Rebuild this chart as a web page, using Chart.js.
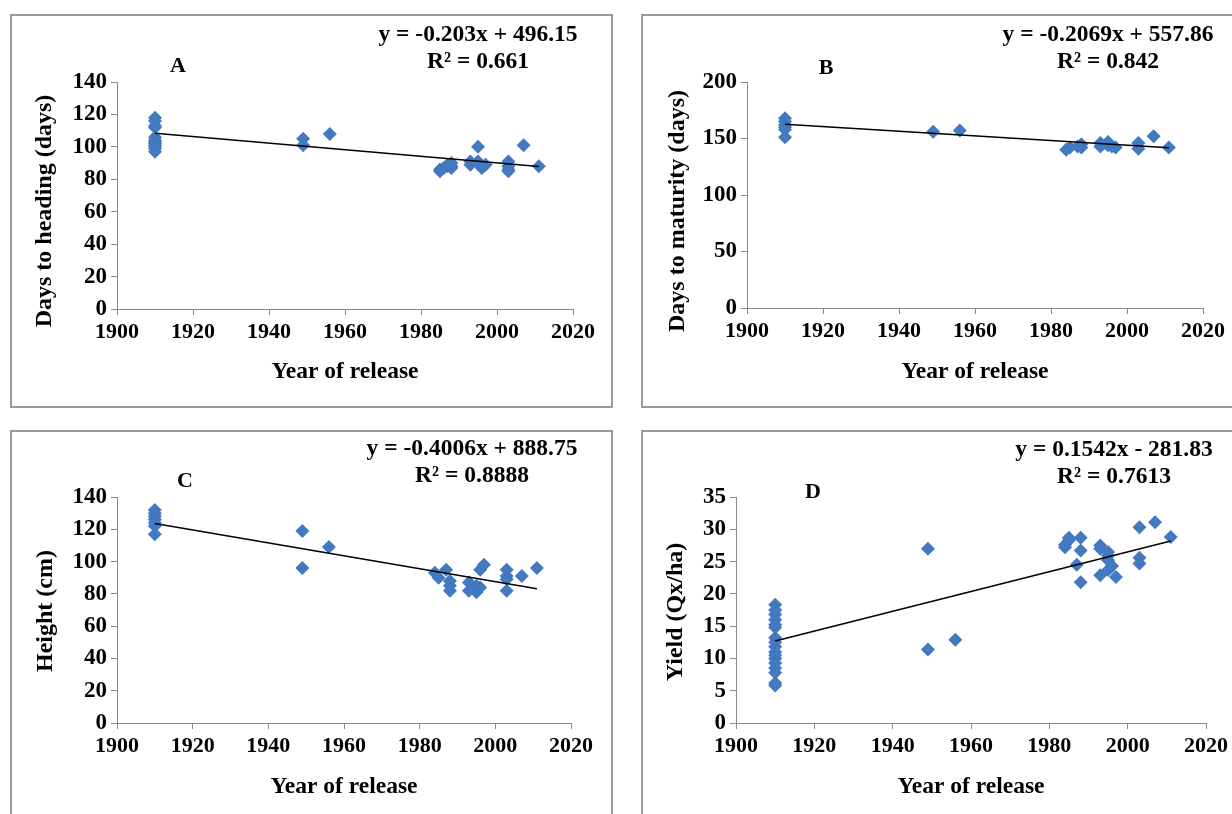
<!DOCTYPE html>
<html>
<head>
<meta charset="utf-8">
<script src="https://cdn.jsdelivr.net/npm/chart.js@4"></script>
<style>
  html, body { margin: 0; padding: 0; background: #fff; overflow: hidden; }
  body { width: 1232px; height: 814px; position: relative; }
  canvas { position: absolute; }
  .frame { position: absolute; border: 2px solid #9a9a9a; box-sizing: border-box; pointer-events: none; }
</style>
</head>
<body>
<canvas id="chartA" width="602" height="393" style="left:10px;top:14px;"></canvas>
<canvas id="chartB" width="591" height="393" style="left:641px;top:14px;"></canvas>
<canvas id="chartC" width="602" height="384" style="left:10px;top:430px;"></canvas>
<canvas id="chartD" width="591" height="384" style="left:641px;top:430px;"></canvas>
<div class="frame" style="left:10px;top:14px;width:603px;height:394px;"></div>
<div class="frame" style="left:641px;top:14px;width:620px;height:394px;"></div>
<div class="frame" style="left:10px;top:430px;width:603px;height:420px;"></div>
<div class="frame" style="left:641px;top:430px;width:620px;height:420px;"></div>
<script>
"use strict";

// Panel A - days to heading
const yearsA = [1910, 1910, 1910, 1910, 1910, 1910, 1910, 1910, 1910, 1910, 1910, 1910,
	1949, 1949, 1956, 1985, 1985, 1986, 1987, 1987, 1988, 1988, 1988, 1993, 1993,
	1995, 1995, 1995, 1996, 1996, 1997, 2003, 2003, 2003, 2003, 2007, 2011];
const daysHeading = [118, 116, 113, 112, 106, 104, 103, 102, 101, 100, 99, 97,
	105, 101, 108, 85, 86, 87, 88, 89, 90, 88, 87, 91, 89,
	100, 91, 90, 88, 87, 89, 91, 88, 86, 85, 101, 88];
const trendA = [{ x: 1910, y: 108.4 }, { x: 2011, y: 87.9 }];

// Panel B - days to maturity
const yearsB = [1910, 1910, 1910, 1910, 1910, 1910, 1949, 1956, 1984, 1985, 1987, 1988, 1988,
	1993, 1993, 1995, 1995, 1996, 1997, 2003, 2003, 2007, 2011];
const daysMaturity = [168, 165, 162, 160, 158, 151, 156, 157, 140, 142, 143, 145, 142,
	146, 143, 147, 144, 143, 142, 146, 141, 152, 142];
const trendB = [{ x: 1910, y: 162.7 }, { x: 2011, y: 141.8 }];

// Panel C - plant height
const yearsC = [1910, 1910, 1910, 1910, 1910, 1910, 1910, 1949, 1949, 1956, 1984, 1985, 1987,
	1988, 1988, 1988, 1993, 1993, 1994, 1995, 1995, 1996, 1996, 1997,
	2003, 2003, 2003, 2003, 2007, 2011];
const plantHeight = [132, 130, 128, 126, 124, 122, 117, 119, 96, 109, 93, 90, 95,
	88, 85, 82, 87, 82, 84, 81, 85, 95, 84, 98,
	95, 91, 89, 82, 91, 96];
const trendC = [{ x: 1910, y: 123.6 }, { x: 2011, y: 83.2 }];

// Panel D - grain yield
const yearsD = [1910, 1910, 1910, 1910, 1910, 1910, 1910, 1910, 1910, 1910, 1910, 1910, 1910, 1910, 1910, 1910, 1910,
	1949, 1949, 1956, 1984, 1984, 1985, 1985, 1987, 1988, 1988, 1988,
	1993, 1993, 1993, 1995, 1995, 1995, 1995, 1996, 1997, 2003, 2003, 2003, 2007, 2011];
const grainYield = [18.3, 17.5, 16.8, 16, 15.2, 14.8, 13.2, 12.5, 11.8, 11, 10.5, 10, 9.3, 8.5, 7.8, 6.2, 5.8,
	27, 11.4, 12.9, 27.2, 27.6, 28.3, 28.7, 24.5, 28.7, 26.7, 21.8,
	27.5, 27, 22.9, 26.5, 25.9, 25.2, 23.7, 24.3, 22.6, 30.3, 25.6, 24.7, 31.1, 28.8];
const trendD = [{ x: 1910, y: 12.7 }, { x: 2011, y: 28.2 }];

const xTicks = [1900, 1920, 1940, 1960, 1980, 2000, 2020];
const xTitle = "Year of release";

const serif = "'Liberation Serif', 'Times New Roman', serif";
const pointBlue = "#4279c0";
const axisGrey = "#8a8a8a";

// texts that are not part of the axes (panel letter, equation, rotated y title)
const panelTexts = {};

const textPlugin = {
	id: "panelText",
	afterDraw(chart) {
		const items = panelTexts[chart.canvas.id] || [];
		const ctx = chart.ctx;
		items.forEach(function (item) {
			ctx.save();
			ctx.fillStyle = "#000";
			ctx.font = "bold " + item.size + "px " + serif;
			ctx.textAlign = "center";
			ctx.textBaseline = "middle";
			ctx.translate(item.x, item.y);
			if (item.rotate) ctx.rotate(-Math.PI / 2);
			ctx.fillText(item.text, 0, 0);
			ctx.restore();
		});
	},
};

function toPoints(xs, ys) {
	return xs.map(function (x, i) {
		return { x: x, y: ys[i] };
	});
}

function makePanel(id, xs, ys, trend, p) {
	panelTexts[id] = [
		{ text: p.letter, x: p.letterX, y: p.letterY, size: 22 },
		{ text: p.equation, x: p.eqX, y: p.eqY, size: 23.5 },
		{ text: p.r2, x: p.eqX, y: p.eqY + 27, size: 23.5 },
		{ text: p.yTitle, x: p.yTitleX, y: p.yTitleY, size: 24, rotate: true },
	];

	new Chart(document.getElementById(id), {
		type: "scatter",
		data: {
			datasets: [
				{
					data: trend,
					showLine: true,
					borderColor: "#000",
					borderWidth: 1.5,
					pointRadius: 0,
				},
				{
					data: toPoints(xs, ys),
					pointStyle: "rectRot",
					pointRadius: 7,
					backgroundColor: pointBlue,
					borderColor: pointBlue,
					borderWidth: 0,
				},
			],
		},
		options: {
			responsive: false,
			animation: false,
			layout: { padding: { left: 0, top: p.top, right: p.right, bottom: 0 } },
			plugins: { legend: { display: false }, tooltip: { enabled: false } },
			scales: {
				x: {
					type: "linear",
					min: 1900,
					max: 2020,
					afterBuildTicks: function (scale) {
						scale.ticks = xTicks.map(function (v) { return { value: v }; });
					},
					afterFit: function (scale) { scale.height = p.xHeight; },
					ticks: {
						color: "#000",
						font: { family: serif, size: 22, weight: "bold" },
						padding: 4,
						maxRotation: 0,
						callback: function (v) { return String(v); },
					},
					grid: { drawOnChartArea: false, tickLength: 6, color: axisGrey },
					border: { color: axisGrey },
					title: {
						display: true,
						text: xTitle,
						color: "#000",
						font: { family: serif, size: 23.5, weight: "bold" },
						padding: { top: 0, bottom: p.xTitlePad },
					},
				},
				y: {
					min: 0,
					max: p.yMax,
					ticks: {
						stepSize: p.yStep,
						color: "#000",
						font: { family: serif, size: 23, weight: "bold" },
						padding: 4,
					},
					afterFit: function (scale) { scale.width = p.yWidth; },
					grid: { drawOnChartArea: false, tickLength: 6, color: axisGrey },
					border: { color: axisGrey },
				},
			},
		},
		plugins: [textPlugin],
	});
}

makePanel("chartA", yearsA, daysHeading, trendA, {
	letter: "A", letterX: 168, letterY: 52,
	equation: "y = -0.203x + 496.15", r2: "R\u00b2 = 0.661", eqX: 468, eqY: 21,
	yTitle: "Days to heading (days)", yTitleX: 35, yTitleY: 197,
	yMax: 140, yStep: 20, yWidth: 107, top: 68, right: 39, xHeight: 98, xTitlePad: 21,
});

makePanel("chartB", yearsB, daysMaturity, trendB, {
	letter: "B", letterX: 185, letterY: 54,
	equation: "y = -0.2069x + 557.86", r2: "R\u00b2 = 0.842", eqX: 467, eqY: 21,
	yTitle: "Days to maturity (days)", yTitleX: 37, yTitleY: 197,
	yMax: 200, yStep: 50, yWidth: 106, top: 68, right: 29, xHeight: 99, xTitlePad: 21,
});

makePanel("chartC", yearsC, plantHeight, trendC, {
	letter: "C", letterX: 175, letterY: 51,
	equation: "y = -0.4006x + 888.75", r2: "R\u00b2 = 0.8888", eqX: 462, eqY: 19,
	yTitle: "Height (cm)", yTitleX: 36, yTitleY: 181,
	yMax: 140, yStep: 20, yWidth: 107, top: 67, right: 41, xHeight: 91, xTitlePad: 13,
});

makePanel("chartD", yearsD, grainYield, trendD, {
	letter: "D", letterX: 172, letterY: 62,
	equation: "y = 0.1542x - 281.83", r2: "R\u00b2 = 0.7613", eqX: 473, eqY: 20,
	yTitle: "Yield (Qx/ha)", yTitleX: 35, yTitleY: 182,
	yMax: 35, yStep: 5, yWidth: 95, top: 67, right: 26, xHeight: 91, xTitlePad: 13,
});
</script>
</body>
</html>
